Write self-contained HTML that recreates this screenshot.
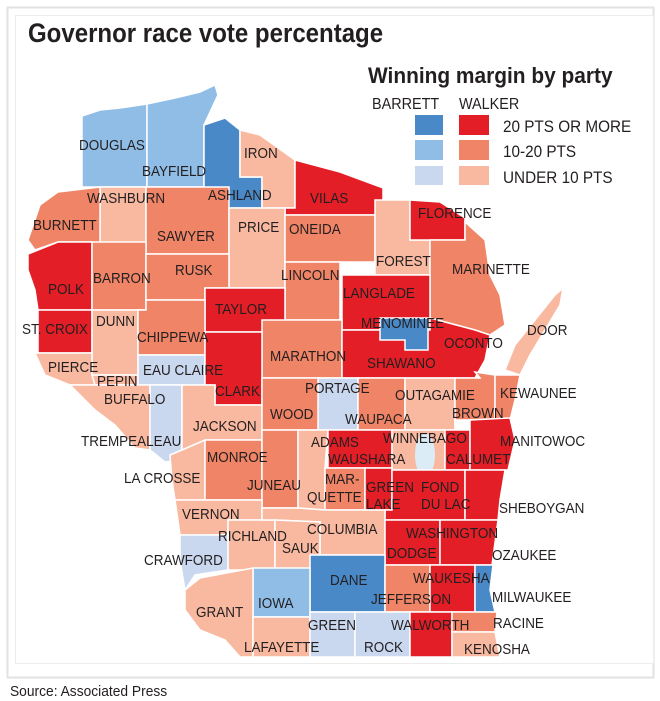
<!DOCTYPE html>
<html><head><meta charset="utf-8"><style>
html,body{margin:0;padding:0;background:#fff;width:660px;height:701px;overflow:hidden}
svg{display:block}
text{transform-box:fill-box;transform-origin:0% 50%}
.t{font-family:"Liberation Sans Narrow","Liberation Sans",sans-serif;font-size:15px;fill:#231f20;transform:scaleX(0.9)}
</style></head><body>
<svg width="660" height="701" viewBox="0 0 660 701">
<rect x="7.5" y="7.5" width="646" height="670" fill="#fff" stroke="#e2e2e2" stroke-width="2"/>
<rect x="15.5" y="15.5" width="638" height="648" fill="#fff" stroke="#ececec"/>
<text x="28" y="42" style="font-family:'Liberation Sans',sans-serif;font-weight:bold;font-size:27px;fill:#231f20;transform:scaleX(0.89)">Governor race vote percentage</text>
<text x="368" y="83" style="font-family:'Liberation Sans',sans-serif;font-weight:bold;font-size:22px;fill:#231f20;transform:scaleX(0.95)">Winning margin by party</text>
<text x="372" y="109" class="t" style="font-size:16px">BARRETT</text>
<text x="459" y="109" class="t" style="font-size:16px">WALKER</text>
<rect x="415" y="115" width="28" height="20" fill="#4a89c8"/><rect x="459" y="115" width="30" height="20" fill="#e41e26"/>
<rect x="415" y="140" width="28" height="20" fill="#8fbde6"/><rect x="459" y="140" width="30" height="20" fill="#f08466"/>
<rect x="415" y="166" width="28" height="19" fill="#c9d8ef"/><rect x="459" y="166" width="30" height="19" fill="#f9b9a0"/>
<text x="503" y="132" class="t" style="font-size:17px">20 PTS OR MORE</text>
<text x="503" y="157" class="t" style="font-size:17px">10-20 PTS</text>
<text x="503" y="183" class="t" style="font-size:17px">UNDER 10 PTS</text>
<g stroke="#fff" stroke-width="1.5">
<polygon fill="#8fbde6" points="82,116 100,110 120,108 147,104 147,187 82,187"/>
<polygon fill="#8fbde6" points="147,104 175,98 200,92 215,85 218,95 204,125 204,187 147,187"/>
<polygon fill="#4a89c8" points="204,125 225,118 240,130 240,177 262,177 262,208 204,208"/>
<polygon fill="#f9b9a0" points="240,130 260,135 295,160 295,208 262,208 262,177 240,177"/>
<polygon fill="#e41e26" points="295,160 340,172 383,188 383,215 285,215 285,208 295,208"/>
<polygon fill="#f9b9a0" points="100,187 146,187 146,254 100,254"/>
<polygon fill="#f08466" points="58,192 100,187 100,254 92,254 92,242 58,242 35,250 28,240 40,205"/>
<polygon fill="#f08466" points="146,187 229,187 229,254 146,254"/>
<polygon fill="#f9b9a0" points="229,208 285,208 285,288 229,288"/>
<polygon fill="#f08466" points="285,215 375,215 375,262 285,262"/>
<polygon fill="#f08466" points="285,262 340,262 340,320 285,320"/>
<polygon fill="#f9b9a0" points="375,200 410,200 410,240 430,240 430,275 375,275"/>
<polygon fill="#e41e26" points="410,200 440,202 465,218 465,240 410,240"/>
<polygon fill="#f08466" points="465,222 485,240 490,275 500,295 505,325 490,335 475,330 430,318 430,240 465,240"/>
<polygon fill="#e41e26" points="28,254 58,242 92,242 92,310 38,310 35,290 28,270"/>
<polygon fill="#f08466" points="92,242 146,242 146,254 146,310 92,310"/>
<polygon fill="#f08466" points="146,254 229,254 229,288 205,288 205,300 146,300"/>
<polygon fill="#e41e26" points="205,288 285,288 285,332 205,332"/>
<polygon fill="#e41e26" points="342,275 430,275 430,330 342,330"/>
<polygon fill="#e41e26" points="38,310 92,310 92,353 38,353"/>
<polygon fill="#f9b9a0" points="92,310 146,310 138,310 138,375 92,375"/>
<polygon fill="#f08466" points="146,300 205,300 205,355 138,355 138,310 146,310"/>
<polygon fill="#f08466" points="262,320 342,320 342,378 262,378"/>
<polygon fill="#e41e26" points="342,330 430,330 430,318 475,330 490,335 485,360 475,378 342,378"/>
<polygon fill="#4a89c8" points="380,318 428,318 428,350 405,350 405,340 380,340"/>
<polygon fill="#f9b9a0" points="505,370 515,345 535,320 555,295 563,288 560,305 545,330 530,355 520,375"/>
<polygon fill="#f9b9a0" points="35,353 92,353 92,375 95,385 70,385 45,375"/>
<polygon fill="#f9b9a0" points="92,375 138,375 138,385 95,385"/>
<polygon fill="#c9d8ef" points="138,355 205,355 205,385 138,385"/>
<polygon fill="#e41e26" points="205,332 262,332 262,405 215,405 215,385 205,385"/>
<polygon fill="#f9b9a0" points="70,385 150,385 150,450 135,448 115,425 95,410"/>
<polygon fill="#c9d8ef" points="150,385 182,385 182,460 165,462 150,450"/>
<polygon fill="#f9b9a0" points="182,385 215,385 215,405 262,405 262,440 205,440 182,450"/>
<polygon fill="#f08466" points="262,378 320,378 320,430 262,430"/>
<polygon fill="#c9d8ef" points="318,378 358,378 358,430 318,430"/>
<polygon fill="#f08466" points="358,378 405,378 405,430 358,430"/>
<polygon fill="#f9b9a0" points="405,378 455,378 455,430 405,430"/>
<polygon fill="#f08466" points="455,378 480,378 475,372 495,375 495,420 455,420 455,430"/>
<polygon fill="#f08466" points="495,375 520,375 515,400 510,420 495,420"/>
<polygon fill="#f9b9a0" points="170,455 182,450 205,440 205,500 175,500 172,480"/>
<polygon fill="#f08466" points="205,440 262,440 262,500 205,500"/>
<polygon fill="#f08466" points="262,430 298,430 298,508 262,508"/>
<polygon fill="#f9b9a0" points="298,430 328,430 325,468 325,510 298,508"/>
<polygon fill="#e41e26" points="328,430 392,430 392,468 328,468"/>
<polygon fill="#f9b9a0" points="392,430 445,430 445,470 392,470"/>
<ellipse cx="425" cy="455" rx="10" ry="22" fill="#dcecf7" stroke="none"/>
<polygon fill="#e41e26" points="445,430 470,430 470,470 445,470"/>
<polygon fill="#e41e26" points="470,420 510,418 515,440 508,470 470,470"/>
<polygon fill="#f08466" points="325,468 365,468 365,510 325,510"/>
<polygon fill="#e41e26" points="365,468 392,468 392,510 365,510"/>
<polygon fill="#e41e26" points="392,470 465,470 465,520 385,520 385,510 392,510"/>
<polygon fill="#e41e26" points="465,470 505,470 500,500 498,520 465,520"/>
<polygon fill="#f9b9a0" points="175,500 262,500 262,520 228,520 228,535 180,535"/>
<polygon fill="#f9b9a0" points="228,520 275,520 275,570 228,570"/>
<polygon fill="#f9b9a0" points="262,508 298,508 325,510 385,510 385,555 320,555 320,522 275,520 262,520"/>
<polygon fill="#f9b9a0" points="275,520 320,522 320,555 310,575 275,572"/>
<polygon fill="#c9d8ef" points="180,535 228,535 228,570 195,575 185,590 180,560"/>
<polygon fill="#e41e26" points="385,520 440,520 440,565 385,565"/>
<polygon fill="#e41e26" points="440,520 498,520 492,565 440,565"/>
<polygon fill="#4a89c8" points="310,555 385,555 385,612 310,612"/>
<polygon fill="#8fbde6" points="253,568 310,568 310,617 253,617"/>
<polygon fill="#f08466" points="385,565 430,565 430,612 385,612"/>
<polygon fill="#e41e26" points="430,565 475,565 475,612 430,612"/>
<polygon fill="#4a89c8" points="475,565 493,565 490,590 495,612 475,612"/>
<polygon fill="#f9b9a0" points="185,590 200,578 253,568 253,657 240,657 225,640 200,630 185,610"/>
<polygon fill="#f9b9a0" points="253,617 310,617 310,657 253,657"/>
<polygon fill="#c9d8ef" points="310,612 355,612 355,657 310,657"/>
<polygon fill="#c9d8ef" points="355,612 410,612 410,657 355,657"/>
<polygon fill="#e41e26" points="410,612 452,612 452,657 410,657"/>
<polygon fill="#f08466" points="452,612 497,612 495,632 452,632"/>
<polygon fill="#f9b9a0" points="452,632 495,632 500,657 452,657"/>
</g>
<g>
<text class="t" x="79" y="150">DOUGLAS</text><text class="t" x="142" y="176">BAYFIELD</text><text class="t" x="244" y="158">IRON</text>
<text class="t" x="208" y="200">ASHLAND</text><text class="t" x="310" y="203">VILAS</text><text class="t" x="87" y="203">WASHBURN</text>
<text class="t" x="33" y="230">BURNETT</text><text class="t" x="157" y="241">SAWYER</text><text class="t" x="238" y="232">PRICE</text>
<text class="t" x="289" y="234">ONEIDA</text><text class="t" x="418" y="218">FLORENCE</text><text class="t" x="376" y="266">FOREST</text>
<text class="t" x="452" y="274">MARINETTE</text><text class="t" x="175" y="275">RUSK</text><text class="t" x="281" y="280">LINCOLN</text>
<text class="t" x="93" y="283">BARRON</text><text class="t" x="48" y="294">POLK</text><text class="t" x="215" y="314">TAYLOR</text>
<text class="t" x="343" y="298">LANGLADE</text><text class="t" x="96" y="326">DUNN</text><text class="t" x="22" y="334">ST. CROIX</text>
<text class="t" x="137" y="342">CHIPPEWA</text><text class="t" x="361" y="328">MENOMINEE</text><text class="t" x="527" y="335">DOOR</text>
<text class="t" x="444" y="348">OCONTO</text><text class="t" x="270" y="361">MARATHON</text><text class="t" x="367" y="368">SHAWANO</text>
<text class="t" x="48" y="372">PIERCE</text><text class="t" x="97" y="386">PEPIN</text><text class="t" x="143" y="375">EAU CLAIRE</text>
<text class="t" x="215" y="396">CLARK</text><text class="t" x="305" y="393">PORTAGE</text><text class="t" x="104" y="404">BUFFALO</text>
<text class="t" x="270" y="419">WOOD</text><text class="t" x="395" y="400">OUTAGAMIE</text><text class="t" x="500" y="398">KEWAUNEE</text>
<text class="t" x="345" y="424">WAUPACA</text><text class="t" x="452" y="418">BROWN</text><text class="t" x="193" y="431">JACKSON</text>
<text class="t" x="81" y="446">TREMPEALEAU</text><text class="t" x="311" y="447">ADAMS</text><text class="t" x="500" y="446">MANITOWOC</text>
<text class="t" x="383" y="443">WINNEBAGO</text><text class="t" x="328" y="464">WAUSHARA</text><text class="t" x="446" y="464">CALUMET</text>
<text class="t" x="207" y="462">MONROE</text><text class="t" x="124" y="483">LA CROSSE</text><text class="t" x="247" y="490">JUNEAU</text>
<text class="t" x="325" y="484">MAR-</text><text class="t" x="307" y="502">QUETTE</text><text class="t" x="366" y="492">GREEN</text>
<text class="t" x="366" y="509">LAKE</text><text class="t" x="421" y="492">FOND</text><text class="t" x="421" y="509">DU LAC</text>
<text class="t" x="499" y="513">SHEBOYGAN</text><text class="t" x="182" y="519">VERNON</text><text class="t" x="307" y="534">COLUMBIA</text>
<text class="t" x="406" y="538">WASHINGTON</text><text class="t" x="218" y="541">RICHLAND</text><text class="t" x="282" y="553">SAUK</text>
<text class="t" x="387" y="558">DODGE</text><text class="t" x="144" y="565">CRAWFORD</text><text class="t" x="492" y="560">OZAUKEE</text>
<text class="t" x="330" y="585">DANE</text><text class="t" x="413" y="583">WAUKESHA</text><text class="t" x="258" y="608">IOWA</text>
<text class="t" x="492" y="602">MILWAUKEE</text><text class="t" x="371" y="604">JEFFERSON</text><text class="t" x="196" y="617">GRANT</text>
<text class="t" x="391" y="630">WALWORTH</text><text class="t" x="493" y="628">RACINE</text><text class="t" x="308" y="630">GREEN</text>
<text class="t" x="244" y="652">LAFAYETTE</text><text class="t" x="364" y="652">ROCK</text><text class="t" x="464" y="654">KENOSHA</text>
</g>
<text x="10" y="696" class="t" style="font-size:15px;transform:scaleX(0.92)">Source: Associated Press</text>
</svg>
</body></html>
